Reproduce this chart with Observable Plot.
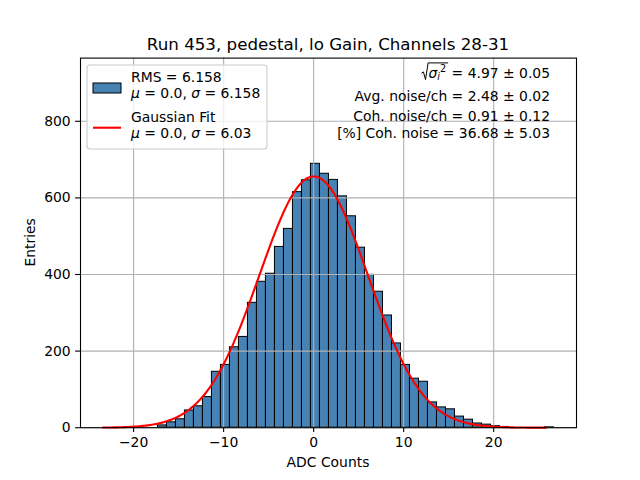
<!DOCTYPE html>
<html><head><meta charset="utf-8">
<script src="https://cdn.jsdelivr.net/npm/d3@7"></script>
<script src="https://cdn.jsdelivr.net/npm/@observablehq/plot@0.6"></script>
<style>body{margin:0;background:#fff;} svg{display:block}</style>
</head><body><div id="chart"></div>
<script>
// ---- data ----
const binLow = -23.3;
const binWidth = 1;
const counts = [0,0,0,0,0,0,6,14,22,45,56,80,146,164,210,237,326,381,402,472,519,615,646,689,663,647,604,552,470,399,355,293,220,164,128,120,66,53,48,29,21,11,8,4,2,0,0,0,0,1];
const fitMu = 0.0;
const fitSigma = 6.03;
const fitAmp = 656;
const fitRange = [-23.4, 25.8];
const xTicks = [-20, -10, 0, 10, 20];
const yTicks = [0, 200, 400, 600, 800];
const titleText = "Run 453, pedestal, lo Gain, Channels 28-31";
const xLabel = "ADC Counts";
const yLabel = "Entries";
const legendHist = ["RMS = 6.158", "0.0", "6.158"];
const legendFit = ["Gaussian Fit", "0.0", "6.03"];
const statLines = ["= 4.97 \u00b1 0.05", "Avg. noise/ch = 2.48 \u00b1 0.02", "Coh. noise/ch = 0.91 \u00b1 0.12", "[%] Coh. noise = 36.68 \u00b1 5.03"];

const bins = counts.map((c, i) => ({x1: binLow + i * binWidth, x2: binLow + (i + 1) * binWidth, n: c}));
const fit = d3.range(0, 301).map(j => {
  const x = fitRange[0] + j * (fitRange[1] - fitRange[0]) / 300;
  return {x, y: fitAmp * Math.exp(-((x - fitMu) ** 2) / (2 * fitSigma ** 2))};
});
const minus = d => d < 0 ? "\u2212" + (-d) : String(d);

const plot = Plot.plot({
  width: 640, height: 480,
  marginLeft: 80, marginRight: 64, marginTop: 57.6, marginBottom: 52.8,
  style: {fontFamily: "DejaVu Sans", fontSize: "13.9px", background: "white", color: "black"},
  x: {domain: [-25.9, 29.2]},
  y: {domain: [0, 965]},
  marks: [
    Plot.rectY(bins, {x1: "x1", x2: "x2", y: "n", fill: "#4682b4", stroke: "black", strokeWidth: 1}),
    Plot.gridX(xTicks, {stroke: "#b0b0b0", strokeOpacity: 1, strokeWidth: 1.1}),
    Plot.gridY(yTicks, {stroke: "#b0b0b0", strokeOpacity: 1, strokeWidth: 1.1}),
    Plot.line(fit, {x: "x", y: "y", stroke: "red", strokeWidth: 2.1}),
    Plot.frame({stroke: "black", strokeWidth: 1.1}),
    Plot.axisX({ticks: xTicks, tickSize: 4.9, tickPadding: 4.9, label: null, fontSize: 13.9, tickFormat: minus, strokeWidth: 1.1}),
    Plot.axisY({ticks: yTicks, tickSize: 4.9, tickPadding: 4.9, label: null, fontSize: 13.9, tickFormat: minus, strokeWidth: 1.1})
  ]
});
document.getElementById("chart").appendChild(plot);

const svg = d3.select(plot);
const g = svg.append("g").attr("font-family", "DejaVu Sans").attr("fill", "black").attr("text-anchor", "start");

// title & labels
g.append("text").attr("x", 328).attr("y", 49.5).attr("text-anchor", "middle").attr("font-size", 16.7).text(titleText);
g.append("text").attr("x", 328).attr("y", 467).attr("text-anchor", "middle").attr("font-size", 13.9).text(xLabel);
g.append("text").attr("transform", "translate(35,242.4) rotate(-90)").attr("text-anchor", "middle").attr("font-size", 13.9).text(yLabel);

// legend
const lg = g.append("g");
lg.append("rect").attr("x", 87).attr("y", 65).attr("width", 180).attr("height", 84).attr("rx", 3)
  .attr("fill", "white").attr("fill-opacity", 0.8).attr("stroke", "#cccccc").attr("stroke-width", 1.1);
lg.append("rect").attr("x", 93).attr("y", 83).attr("width", 28).attr("height", 10)
  .attr("fill", "#4682b4").attr("stroke", "black").attr("stroke-width", 1);
lg.append("line").attr("x1", 93).attr("x2", 121).attr("y1", 127.7).attr("y2", 127.7)
  .attr("stroke", "red").attr("stroke-width", 2.1);
function muSigma(sel, x, y, mu, sigma) {
  const t = sel.append("text").attr("x", x).attr("y", y).attr("font-size", 13.9).attr("text-anchor", "start");
  t.append("tspan").attr("font-style", "italic").text("\u03bc");
  t.append("tspan").text(" = " + mu + ", ");
  t.append("tspan").attr("font-style", "italic").text("\u03c3");
  t.append("tspan").text(" = " + sigma);
}
lg.append("text").attr("x", 131).attr("y", 81.5).attr("font-size", 13.9).attr("text-anchor", "start").text(legendHist[0]);
muSigma(lg, 131, 98.3, legendHist[1], legendHist[2]);
lg.append("text").attr("x", 131).attr("y", 121.5).attr("font-size", 13.9).attr("text-anchor", "start").text(legendFit[0]);
muSigma(lg, 131, 138.3, legendFit[1], legendFit[2]);

// stats annotation
const st = g.append("g").attr("font-size", 13.9);
const t1 = st.append("text").attr("x", 0).attr("y", 78.3).attr("text-anchor", "start");
t1.append("tspan").attr("font-style", "italic").attr("dx", 7.5).text("\u03c3");
t1.append("tspan").attr("font-style", "italic").attr("font-size", 9.7).attr("dy", 2).text("i");
t1.append("tspan").attr("font-size", 9.7).attr("dy", -8.5).text("2");
t1.append("tspan").attr("dy", 6.5).attr("dx", 5.5).text(statLines[0]);
try {
  const bb = t1.node().getBBox();
  const X = 550 - (bb.x + bb.width);
  t1.attr("x", X);
  const e2 = t1.node().getExtentOfChar(2);
  st.append("path")
    .attr("d", `M${X + 0.5},73.2 L${X + 2.5},71.9 L${X + 4.6},79.6 L${X + 7.2},62.9 H${e2.x + e2.width + 2}`)
    .attr("fill", "none").attr("stroke", "black").attr("stroke-width", 1);
} catch (e) {
  t1.attr("x", 430);
}
st.append("text").attr("x", 550).attr("y", 101).attr("text-anchor", "end").text(statLines[1]);
st.append("text").attr("x", 550).attr("y", 120.5).attr("text-anchor", "end").text(statLines[2]);
st.append("text").attr("x", 550).attr("y", 138.3).attr("text-anchor", "end").text(statLines[3]);
</script>
</body></html>
